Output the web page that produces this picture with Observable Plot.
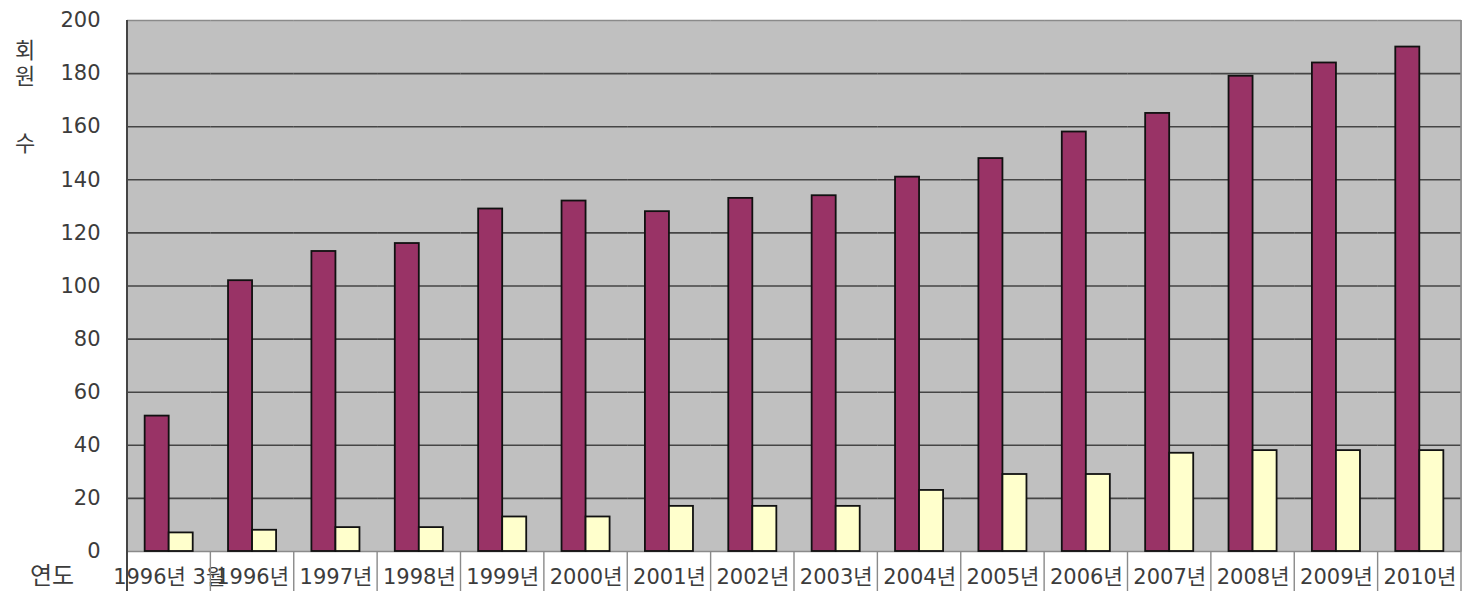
<!DOCTYPE html>
<html>
<head>
<meta charset="utf-8">
<script src="https://cdn.jsdelivr.net/npm/d3@7"></script>
<script src="https://cdn.jsdelivr.net/npm/@observablehq/plot@0.6"></script>
<style>
  html, body { margin: 0; padding: 0; background: #fff; }
  #chart svg { display: block; }
</style>
</head>
<body>
<div id="chart"></div>
<script>
const categories = ["1996년 3월","1996년","1997년","1998년","1999년","2000년","2001년","2002년","2003년","2004년","2005년","2006년","2007년","2008년","2009년","2010년"];
const seriesNames = ["계열1", "계열2"];
const series1 = [51, 102, 113, 116, 129, 132, 128, 133, 134, 141, 148, 158, 165, 179, 184, 190];
const series2 = [7, 8, 9, 9, 13, 13, 17, 17, 17, 23, 29, 29, 37, 38, 38, 38];
const yTicks = [0, 20, 40, 60, 80, 100, 120, 140, 160, 180, 200];
const gridTicks = [20, 40, 60, 80, 100, 120, 140, 160, 180];
const yTitle = ["회", "원", "수"];
const xTitle = "연도";

const data = [];
categories.forEach((c, i) => {
  data.push({cat: c, series: seriesNames[0], value: series1[i]});
  data.push({cat: c, series: seriesNames[1], value: series2[i]});
});

const W = 1463, H = 591;
const font = '"DejaVu Sans", "Noto Sans CJK KR", sans-serif';
const textColor = "#3c3c3c";

const chart = Plot.plot({
  width: W,
  height: H,
  marginLeft: 127,
  marginRight: 2,
  marginTop: 20,
  marginBottom: 40,
  style: {fontFamily: font, fontSize: "21px", color: textColor, background: "#fff"},
  fx: {domain: categories, padding: 0, round: false, label: null},
  x: {domain: seriesNames, paddingInner: 0, paddingOuter: 0.735, round: false, axis: null},
  y: {domain: [0, 200], label: null},
  color: {domain: seriesNames, range: ["#993366", "#ffffcc"]},
  marks: [
    Plot.frame({fill: "#c0c0c0", stroke: "#c0c0c0", strokeWidth: 1}),
    Plot.ruleY(gridTicks, {stroke: "#454545", strokeWidth: 1.6}),
    Plot.ruleY([200], {stroke: "#8a8a8a", strokeWidth: 1.6}),
    Plot.ruleY([0], {stroke: "#8a8a8a", strokeWidth: 1.6}),
    Plot.barY(data, {fx: "cat", x: "series", y: "value", fill: "series", stroke: "#111", strokeWidth: 1.8, inset: 0}),
    Plot.axisY({ticks: yTicks, tickSize: 0, tickPadding: 27, tickFormat: d => String(d), fill: textColor, label: null}),
    Plot.axisFx({anchor: "bottom", tickSize: 0, tickPadding: 18, fill: textColor, label: null})
  ]
});

document.getElementById("chart").appendChild(chart);

// category separators, left/right borders and titles
const svg = d3.select(chart);
const fx = chart.scale("fx");
const y = chart.scale("y");
const yTop = y.apply(200), yBottom = y.apply(0);
const edges = categories.map(c => fx.apply(c)).concat([fx.apply(categories[categories.length - 1]) + fx.step]);
const g = svg.append("g");
edges.forEach((x0, i) => {
  g.append("line")
    .attr("x1", x0).attr("x2", x0)
    .attr("y1", i === 0 ? yTop : yBottom).attr("y2", H)
    .attr("stroke", i === 0 ? "#444" : "#8a8a8a")
    .attr("stroke-width", i === 0 ? 2 : 1.4);
});
g.append("line")
  .attr("x1", edges[edges.length - 1]).attr("x2", edges[edges.length - 1])
  .attr("y1", yTop).attr("y2", yBottom)
  .attr("stroke", "#8a8a8a").attr("stroke-width", 1.6);

const ty = svg.append("text")
  .attr("font-family", font).attr("font-size", 22).attr("fill", textColor)
  .attr("text-anchor", "middle");
const titleY = [58, 84, 151];
yTitle.forEach((ch, i) => {
  ty.append("tspan").attr("x", 25).attr("y", titleY[i]).text(ch);
});
svg.append("text")
  .attr("x", 52).attr("y", yBottom + 33)
  .attr("font-family", font).attr("font-size", 24).attr("fill", textColor)
  .attr("text-anchor", "middle")
  .text(xTitle);
</script>
</body>
</html>
